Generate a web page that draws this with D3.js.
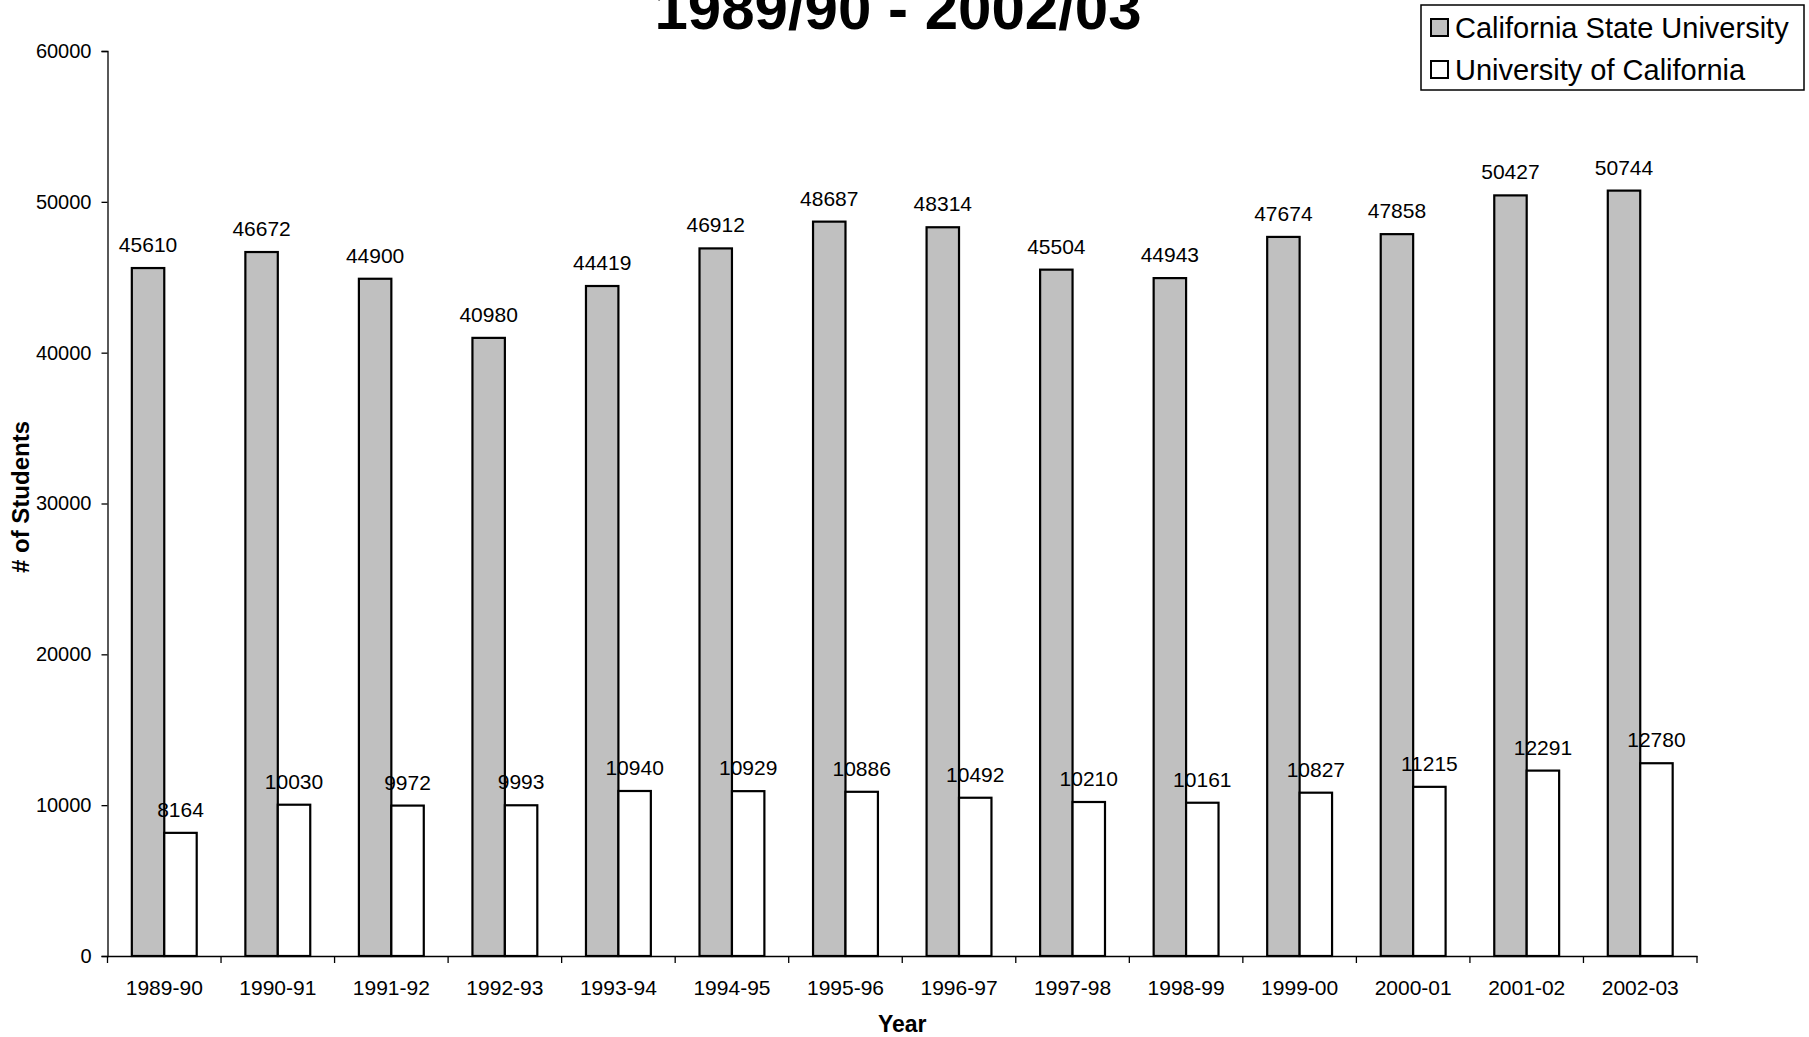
<!DOCTYPE html>
<html>
<head>
<meta charset="utf-8">
<script src="https://cdn.jsdelivr.net/npm/d3@7"></script>
<style>
  body { margin: 0; background: #fff; }
  text { font-family: Arial, "Liberation Sans", sans-serif; fill: #000; }
</style>
</head>
<body>
<svg id="chart" width="1809" height="1037"></svg>
<script>
const years = ["1989-90","1990-91","1991-92","1992-93","1993-94","1994-95","1995-96",
               "1996-97","1997-98","1998-99","1999-00","2000-01","2001-02","2002-03"];
const csuValues = [45610,46672,44900,40980,44419,46912,48687,48314,45504,44943,47674,47858,50427,50744];
const ucValues  = [8164,10030,9972,9993,10940,10929,10886,10492,10210,10161,10827,11215,12291,12780];
const seriesNames = ["California State University","University of California"];
const yTicks = [0,10000,20000,30000,40000,50000,60000];

const svg = d3.select("#chart");

const plotLeft = 107.5, plotRight = 1697, plotTop = 51, plotBottom = 956;

const xScale = d3.scaleBand()
  .domain(years)
  .range([plotLeft, plotRight]);

const yScale = d3.scaleLinear()
  .domain([0, 60000])
  .range([plotBottom, plotTop]);

//Excel style gap width 150%: each bar is band / 3.5
const barW = xScale.bandwidth() / 3.5;

const series = [
  { name: seriesNames[0], values: csuValues, fill: "#c0c0c0", idx: 0 },
  { name: seriesNames[1], values: ucValues,  fill: "#ffffff", idx: 1 }
];

const offset = (i) => xScale.bandwidth() / 2 - barW + i * barW;

series.forEach(s => {
  const g = svg.append("g");
  g.selectAll("rect")
    .data(years)
    .join("rect")
      .attr("x", d => xScale(d) + offset(s.idx))
      .attr("y", (d, i) => yScale(s.values[i]))
      .attr("width", barW)
      .attr("height", (d, i) => plotBottom - yScale(s.values[i]))
      .attr("fill", s.fill)
      .attr("stroke", "#000")
      .attr("stroke-width", 2.2);

  g.selectAll("text")
    .data(years)
    .join("text")
      .attr("x", d => xScale(d) + offset(s.idx) + barW / 2)
      .attr("y", (d, i) => yScale(s.values[i]) - 16)
      .attr("text-anchor", "middle")
      .attr("font-size", 21)
      .text((d, i) => s.values[i]);
});

//Y axis
const yAxis = svg.append("g")
  .attr("transform", `translate(${plotLeft},0)`)
  .call(d3.axisLeft(yScale).tickValues(yTicks).tickSize(6).tickPadding(10).tickFormat(d3.format("d")));
yAxis.select(".domain").attr("stroke", "#000").attr("stroke-width", 1.3);
yAxis.selectAll(".tick line").attr("stroke", "#000").attr("stroke-width", 1.3);
yAxis.selectAll(".tick text").attr("font-size", 20).attr("font-family", "Arial, 'Liberation Sans', sans-serif");

//X axis, with tick marks between categories
const xAxis = svg.append("g")
  .attr("transform", `translate(0,${plotBottom})`)
  .call(d3.axisBottom(xScale).tickSize(0).tickPadding(24));
xAxis.select(".domain").attr("stroke", "#000").attr("stroke-width", 1.3);
xAxis.selectAll(".tick text").attr("font-size", 21).attr("font-family", "Arial, 'Liberation Sans', sans-serif");

svg.append("g")
  .selectAll("line")
  .data(years.concat([null]))
  .join("line")
    .attr("x1", (d, i) => plotLeft + i * xScale.step())
    .attr("x2", (d, i) => plotLeft + i * xScale.step())
    .attr("y1", plotBottom)
    .attr("y2", plotBottom + 7)
    .attr("stroke", "#000")
    .attr("stroke-width", 1.3);

//Titles (the top line of the main title falls outside the picture, as in the source)
svg.append("text")
  .attr("x", 898)
  .attr("y", 29)
  .attr("text-anchor", "middle")
  .attr("font-size", 60)
  .attr("font-weight", "bold")
  .text("1989/90 - 2002/03");

svg.append("text")
  .attr("x", (plotLeft + plotRight) / 2)
  .attr("y", 1032)
  .attr("text-anchor", "middle")
  .attr("font-size", 23)
  .attr("font-weight", "bold")
  .text("Year");

svg.append("text")
  .attr("transform", `translate(29,497) rotate(-90)`)
  .attr("text-anchor", "middle")
  .attr("font-size", 24)
  .attr("font-weight", "bold")
  .text("# of Students");

//Legend
const legend = svg.append("g").attr("transform", "translate(1421,5)");
legend.append("rect")
  .attr("width", 383)
  .attr("height", 85)
  .attr("fill", "#fff")
  .attr("stroke", "#000")
  .attr("stroke-width", 1.5);

const items = legend.selectAll(".item")
  .data(series)
  .join("g")
    .attr("class", "item")
    .attr("transform", (d, i) => `translate(10,${23 + i * 42})`);

items.append("rect")
  .attr("x", 0)
  .attr("y", -9)
  .attr("width", 17)
  .attr("height", 17)
  .attr("fill", d => d.fill)
  .attr("stroke", "#000")
  .attr("stroke-width", 2);

items.append("text")
  .attr("x", 24)
  .attr("y", 10)
  .attr("font-size", 29)
  .text(d => d.name);
</script>
</body>
</html>
